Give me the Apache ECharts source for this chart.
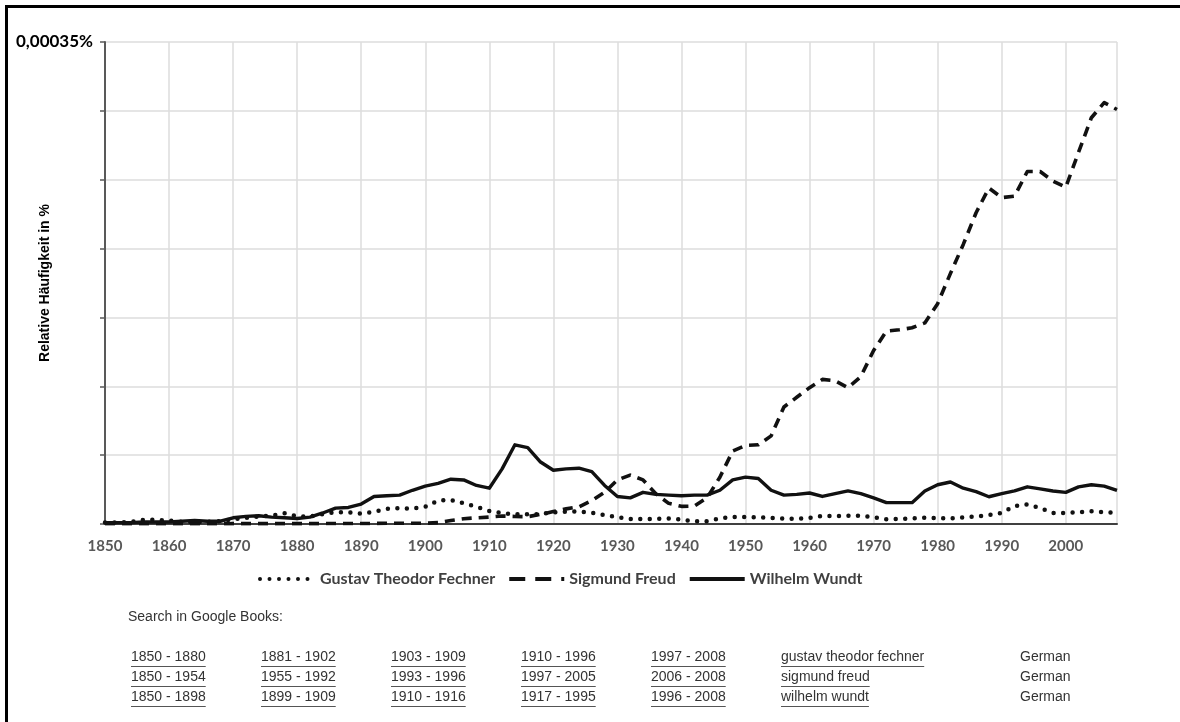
<!DOCTYPE html>
<html>
<head>
<meta charset="utf-8">
<title>Fechner, Freud, Wundt</title>
<script src="https://cdn.jsdelivr.net/npm/echarts@6/dist/echarts.min.js"></script>
<style>
  html, body { margin: 0; padding: 0; background: #fff; }
  #chart { width: 1180px; height: 722px; }
</style>
</head>
<body>
<div id="chart"></div>
<script>
// years sampled every 2 years, values in 1e-5 percent
const years = [
  1850, 1852, 1854, 1856, 1858, 1860, 1862, 1864, 1866, 1868,
  1870, 1872, 1874, 1876, 1878, 1880, 1882, 1884, 1886, 1888,
  1890, 1892, 1894, 1896, 1898, 1900, 1902, 1904, 1906, 1908,
  1910, 1912, 1914, 1916, 1918, 1920, 1922, 1924, 1926, 1928,
  1930, 1932, 1934, 1936, 1938, 1940, 1942, 1944, 1946, 1948,
  1950, 1952, 1954, 1956, 1958, 1960, 1962, 1964, 1966, 1968,
  1970, 1972, 1974, 1976, 1978, 1980, 1982, 1984, 1986, 1988,
  1990, 1992, 1994, 1996, 1998, 2000, 2002, 2004, 2006, 2008
]
const fechner = [
  0.1, 0.1, 0.15, 0.3, 0.3, 0.25, 0.15, 0.15, 0.15, 0.2,
  0.35, 0.45, 0.55, 0.6, 0.78, 0.55, 0.55, 0.72, 0.85, 0.85,
  0.75, 0.9, 1.1, 1.15, 1.12, 1.25, 1.7, 1.75, 1.5, 1.25,
  0.95, 0.78, 0.7, 0.7, 0.72, 0.85, 0.9, 0.9, 0.82, 0.65,
  0.5, 0.36, 0.36, 0.38, 0.4, 0.32, 0.2, 0.2, 0.4, 0.52,
  0.5, 0.48, 0.45, 0.4, 0.36, 0.45, 0.58, 0.58, 0.6, 0.6,
  0.48, 0.34, 0.36, 0.4, 0.45, 0.42, 0.4, 0.48, 0.55, 0.65,
  0.8, 1.3, 1.42, 1.15, 0.8, 0.8, 0.85, 0.92, 0.85, 0.82
]
const freud = [
  0.02, 0.02, 0.02, 0.02, 0.02, 0.02, 0.02, 0.02, 0.02, 0.02,
  0.03, 0.03, 0.03, 0.03, 0.03, 0.03, 0.03, 0.03, 0.04, 0.04,
  0.04, 0.04, 0.05, 0.05, 0.05, 0.05, 0.1, 0.25, 0.38, 0.45,
  0.5, 0.58, 0.55, 0.53, 0.7, 0.9, 1.1, 1.25, 1.7, 2.3,
  3.2, 3.55, 3.2, 2.2, 1.5, 1.28, 1.3, 1.9, 3.4, 5.3,
  5.7, 5.75, 6.4, 8.5, 9.2, 9.9, 10.5, 10.4, 9.9, 10.7,
  12.6, 14.0, 14.1, 14.25, 14.6, 16.0, 18.2, 20.3, 22.6, 24.4,
  23.7, 23.8, 25.6, 25.6, 24.9, 24.45, 27.0, 29.5, 30.6, 30.1
]
const wundt = [
  0.1, 0.1, 0.1, 0.15, 0.15, 0.15, 0.2, 0.25, 0.2, 0.2,
  0.45, 0.55, 0.6, 0.5, 0.45, 0.4, 0.5, 0.8, 1.15, 1.2,
  1.45, 2.0, 2.05, 2.1, 2.45, 2.75, 2.95, 3.25, 3.2, 2.8,
  2.6, 4.0, 5.75, 5.55, 4.5, 3.9, 4.0, 4.05, 3.8, 2.8,
  2.0, 1.9, 2.3, 2.15, 2.1, 2.05, 2.1, 2.1, 2.45, 3.2,
  3.4, 3.3, 2.45, 2.1, 2.15, 2.25, 2.0, 2.2, 2.4, 2.2,
  1.9, 1.55, 1.55, 1.55, 2.4, 2.85, 3.05, 2.6, 2.35, 1.98,
  2.2, 2.4, 2.7, 2.55, 2.4, 2.3, 2.7, 2.85, 2.75, 2.45
]
const seriesNames = ['Gustav Theodor Fechner', 'Sigmund Freud', 'Wilhelm Wundt']

const searchTitle = 'Search in Google Books:'
const searchRows = [
  ['1850 - 1880', '1881 - 1902', '1903 - 1909', '1910 - 1996', '1997 - 2008', 'gustav theodor fechner', 'German'],
  ['1850 - 1954', '1955 - 1992', '1993 - 1996', '1997 - 2005', '2006 - 2008', 'sigmund freud', 'German'],
  ['1850 - 1898', '1899 - 1909', '1910 - 1916', '1917 - 1995', '1996 - 2008', 'wilhelm wundt', 'German']
]

const pairs = vals => years.map((y, i) => [y, vals[i]])

// underlined table text below the chart
const tableFont = '14px "Liberation Sans", Arial, sans-serif'
const measure = document.createElement('canvas').getContext('2d')
measure.font = tableFont
const colX = [131, 261, 391, 521, 651, 781, 1020]
const rowY = [658, 678, 698]
const tableGraphics = []
searchRows.forEach((row, r) => {
  row.forEach((txt, c) => {
    tableGraphics.push({
      type: 'text', left: colX[c], top: rowY[r] - 8,
      style: { text: txt, font: tableFont, fill: '#333' }
    })
    if (c < row.length - 1) {
      const w = measure.measureText(txt).width
      tableGraphics.push({
        type: 'line',
        shape: { x1: colX[c], y1: rowY[r] + 8.5, x2: colX[c] + w, y2: rowY[r] + 8.5 },
        style: { stroke: '#555', lineWidth: 1 }
      })
    }
  })
})

const chart = echarts.init(document.getElementById('chart'), null, { renderer: 'canvas' })
chart.setOption({
  backgroundColor: '#fff',
  animation: false,
  grid: { left: 105, right: 63, top: 42, bottom: 198, outerBoundsMode: 'none' },
  legend: {
    left: 253, top: 566,
    itemWidth: 55, itemHeight: 14, itemGap: 12,
    itemStyle: { opacity: 0 },
    lineStyle: { color: '#111', width: 4 },
    textStyle: { fontFamily: 'Lato', fontWeight: 'bold', fontSize: 16, color: '#404040' },
    data: [
      seriesNames[0],
      { name: seriesNames[1], lineStyle: { type: [16, 10] } },
      seriesNames[2]
    ]
  },
  xAxis: {
    type: 'value', min: 1850, max: 2008, interval: 10,
    axisLine: { lineStyle: { color: '#404040', width: 2 } },
    axisTick: { show: false },
    axisLabel: {
      margin: 15, showMaxLabel: false,
      fontFamily: 'Lato', fontWeight: 'bold', fontSize: 15, color: '#595959',
      formatter: v => String(v)
    },
    splitLine: { show: true, lineStyle: { color: '#dcdcdc', width: 1.5 } }
  },
  yAxis: {
    type: 'value', min: 0, max: 35, interval: 5,
    name: 'Relative Häufigkeit in %',
    nameLocation: 'middle', nameGap: 53, nameRotate: 90, nameMoveOverlap: false,
    nameTextStyle: { fontFamily: '"Liberation Sans", Arial', fontWeight: 'bold', fontSize: 14, color: '#000' },
    axisLine: { show: true, lineStyle: { color: '#595959', width: 2 } },
    axisTick: { show: true, length: 5, lineStyle: { color: '#595959', width: 1.5 } },
    axisLabel: {
      margin: 12,
      fontFamily: 'Lato', fontWeight: 'bold', fontSize: 17, color: '#000',
      formatter: v => v === 35 ? (v / 100000).toFixed(5).replace('.', ',') + '%' : ''
    },
    splitLine: { lineStyle: { color: '#dcdcdc', width: 1.5 } }
  },
  series: [
    {
      name: seriesNames[0], type: 'line', data: pairs(fechner),
      symbol: 'none', z: 3, itemStyle: { color: '#111' },
      lineStyle: { color: '#111', width: 4.5, type: [0, 9.5], cap: 'round', join: 'round' }
    },
    {
      name: seriesNames[1], type: 'line', data: pairs(freud),
      symbol: 'none', z: 4, itemStyle: { color: '#111' },
      lineStyle: { color: '#111', width: 3.6, type: [10, 7], join: 'round' }
    },
    {
      name: seriesNames[2], type: 'line', data: pairs(wundt),
      symbol: 'none', z: 5, itemStyle: { color: '#111' },
      lineStyle: { color: '#111', width: 3.4, join: 'round' }
    }
  ],
  graphic: [
    {
      type: 'rect', z: -1,
      shape: { x: 6.5, y: 6.5, width: 1300, height: 900 },
      style: { fill: 'none', stroke: '#000', lineWidth: 3 }
    },
    {
      type: 'text', left: 128, top: 610,
      style: { text: searchTitle, font: tableFont, fill: '#333' }
    }
  ].concat(tableGraphics)
})
</script>
</body>
</html>
